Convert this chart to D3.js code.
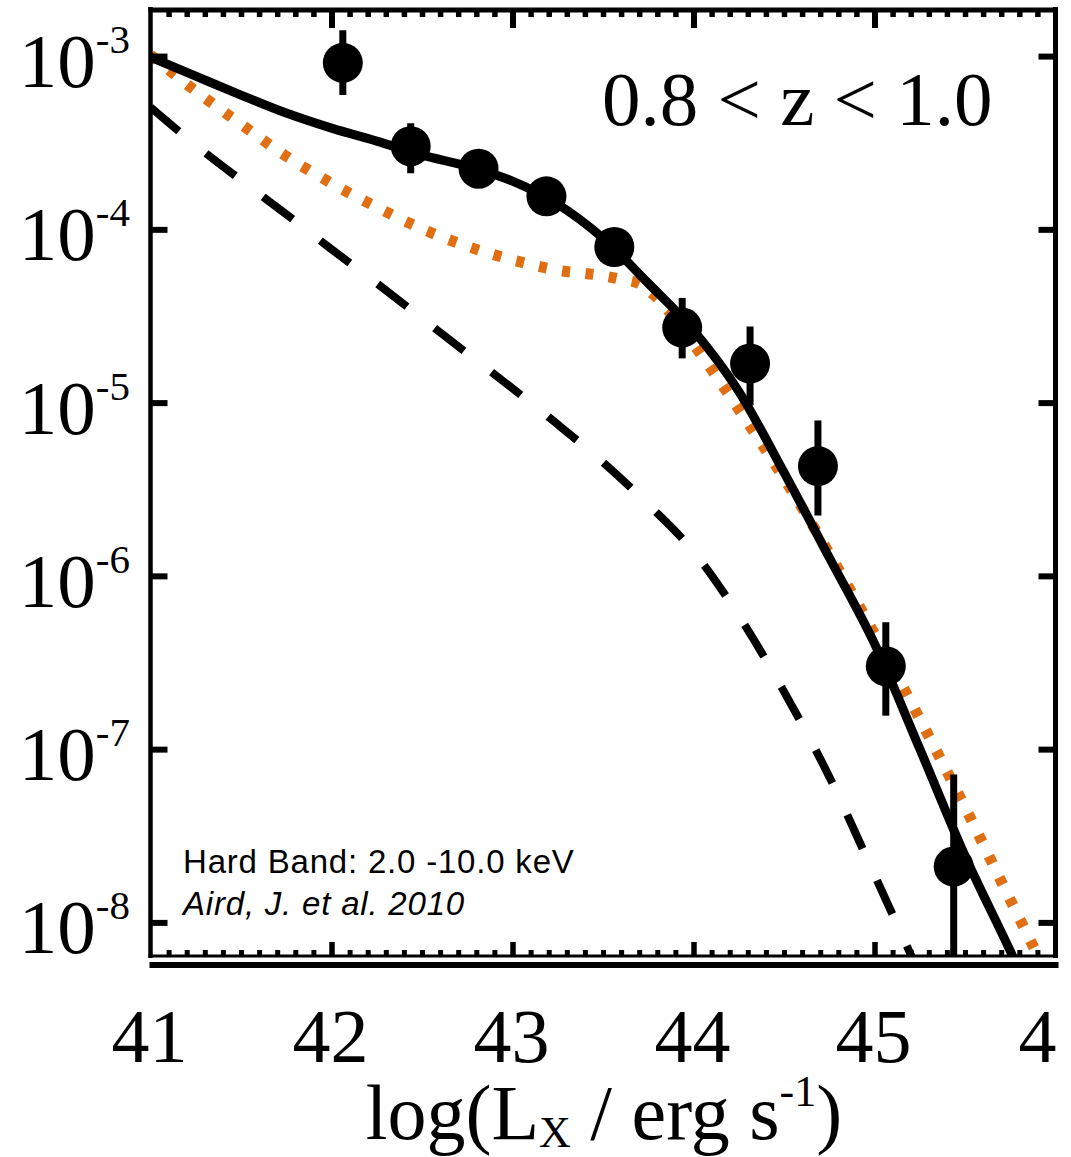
<!DOCTYPE html>
<html>
<head>
<meta charset="utf-8">
<script src="https://cdn.jsdelivr.net/npm/d3@7"></script>
<style>
  html, body { margin: 0; padding: 0; background: #ffffff; }
  svg { display: block; }
</style>
</head>
<body>
<svg id="chart" width="1071" height="1157"></svg>
<script>
// ---------------- data ----------------
const xTickValues = [41, 42, 43, 44, 45, 46];
const xTickLabels = ["41", "42", "43", "44", "45", "4"];   // last label is cut by the frame in the original
const yTickExponents = [-3, -4, -5, -6, -7, -8];

// binned data points: log(Lx) bin centres, space density, error bar ends
const binLx   = [42.0625, 42.4375, 42.8125, 43.1875, 43.5625, 43.9375, 44.3125, 44.6875, 45.0625, 45.4375];
const binPhi  = [9.14e-4, 3.02e-4, 2.24e-4, 1.55e-4, 7.91e-5, 2.71e-5, 1.68e-5, 4.30e-6, 3.01e-7, 2.10e-8];
const binPhiHi = [1.41e-3, 4.10e-4, 2.50e-4, 1.70e-4, 8.70e-5, 4.02e-5, 2.75e-5, 7.89e-6, 5.40e-7, 7.13e-8];
const binPhiLo = [5.96e-4, 2.11e-4, 2.00e-4, 1.40e-4, 7.20e-5, 1.80e-5, 9.64e-6, 2.23e-6, 1.56e-7, 1.0e-9];

// model curves (log10 of space density)
const solidLx  = [41, 41.25, 41.5, 41.75, 42, 42.25, 42.5, 42.75, 43, 43.25, 43.5, 43.75, 44, 44.25, 44.5, 44.75, 45, 45.25, 45.5, 45.75, 46];
const solidLog = [-3.006, -3.116, -3.225, -3.329, -3.416, -3.491, -3.572, -3.635, -3.722, -3.855, -4.051, -4.311, -4.583, -4.935, -5.403, -5.894, -6.391, -6.998, -7.616, -8.165, -8.74];

const dashedLx  = [41, 41.25, 41.5, 41.75, 42, 42.25, 42.5, 42.75, 43, 43.25, 43.5, 43.75, 44, 44.25, 44.5, 44.75, 45, 45.25];
const dashedLog = [-3.295, -3.514, -3.716, -3.913, -4.115, -4.311, -4.514, -4.716, -4.918, -5.126, -5.345, -5.588, -5.860, -6.229, -6.668, -7.159, -7.726, -8.30];

const dottedLx  = [41, 41.25, 41.5, 41.75, 42, 42.25, 42.5, 42.75, 43, 43.25, 43.5, 43.6, 43.7, 43.8, 44, 44.25, 44.5, 44.75, 45, 45.25, 45.5, 45.75, 46];
const dottedLog = [-2.994, -3.202, -3.393, -3.578, -3.734, -3.872, -3.997, -4.098, -4.176, -4.236, -4.268, -4.288, -4.313, -4.398, -4.664, -5.039, -5.438, -5.870, -6.335, -6.825, -7.335, -7.870, -8.396];

const redshiftLabel = "0.8 < z < 1.0";
const bandLabel = "Hard Band: 2.0 -10.0 keV";
const refLabel = "Aird, J. et al. 2010";

// ---------------- layout ----------------
const L = 150.5, R = 1055.5, T = 10, B = 956;
const svg = d3.select("#chart");
svg.append("rect").attr("width", 1071).attr("height", 1157).attr("fill", "#ffffff");

const x = d3.scaleLinear().domain([41, 46]).range([L, R]);
const y = d3.scaleLog().domain([Math.pow(10, -8.194), Math.pow(10, -2.734)]).range([B, T]);

const defs = svg.append("defs");
defs.append("clipPath").attr("id", "plotclip")
  .append("rect").attr("x", L).attr("y", T).attr("width", R - L).attr("height", B - T);

const plot = svg.append("g").attr("clip-path", "url(#plotclip)");

function curve(lxArr, logArr) {
  return lxArr.map((v, i) => [v, Math.pow(10, logArr[i])]);
}
const line = d3.line().x(d => x(d[0])).y(d => y(d[1])).curve(d3.curveMonotoneX);

// dashed component
plot.append("path").datum(curve(dashedLx, dashedLog))
  .attr("d", line).attr("fill", "none").attr("stroke", "#000")
  .attr("stroke-width", 8).attr("stroke-dasharray", "37,35");

// dotted orange component
plot.append("path").datum(curve(dottedLx, dottedLog))
  .attr("d", line).attr("fill", "none").attr("stroke", "#df6f12")
  .attr("stroke-width", 11).attr("stroke-dasharray", "8,15.5");

// solid total model
plot.append("path").datum(curve(solidLx, solidLog))
  .attr("d", line).attr("fill", "none").attr("stroke", "#000")
  .attr("stroke-width", 9).attr("stroke-linejoin", "round");

// data points
const pts = binLx.map((v, i) => ({ x: v, y: binPhi[i], hi: binPhiHi[i], lo: binPhiLo[i] }));
plot.selectAll("line.err").data(pts).enter().append("line")
  .attr("class", "err")
  .attr("x1", d => x(d.x)).attr("x2", d => x(d.x))
  .attr("y1", d => y(d.hi)).attr("y2", d => y(d.lo))
  .attr("stroke", "#000").attr("stroke-width", 7);
plot.selectAll("circle.pt").data(pts).enter().append("circle")
  .attr("class", "pt")
  .attr("cx", d => x(d.x)).attr("cy", d => y(d.y)).attr("r", 20)
  .attr("fill", "#000");

// ---------------- axes ----------------
const minorX = d3.range(410, 461).map(v => v / 10).filter(v => Math.abs(v - Math.round(v)) > 1e-6);

// top
svg.append("g").attr("transform", `translate(0,${T})`)
  .call(d3.axisTop(x).tickValues(minorX).tickSize(-7).tickFormat(""))
  .call(g => g.select(".domain").remove())
  .call(g => g.selectAll("line").attr("stroke", "#000").attr("stroke-width", 5.5));
svg.append("g").attr("transform", `translate(0,${T})`)
  .call(d3.axisTop(x).tickValues(xTickValues.slice(1, 5)).tickSize(-18).tickFormat(""))
  .call(g => g.select(".domain").remove())
  .call(g => g.selectAll("line").attr("stroke", "#000").attr("stroke-width", 6));

// bottom
svg.append("g").attr("transform", `translate(0,${B - 1})`)
  .call(d3.axisBottom(x).tickValues(minorX).tickSize(-5).tickFormat(""))
  .call(g => g.select(".domain").remove())
  .call(g => g.selectAll("line").attr("stroke", "#000").attr("stroke-width", 5));
svg.append("g").attr("transform", `translate(0,${B - 1})`)
  .call(d3.axisBottom(x).tickValues(xTickValues.slice(1, 5)).tickSize(-13).tickFormat(""))
  .call(g => g.select(".domain").remove())
  .call(g => g.selectAll("line").attr("stroke", "#000").attr("stroke-width", 5.5));

const yTickVals = yTickExponents.map(e => Math.pow(10, e));
// left
svg.append("g").attr("transform", `translate(${L},0)`)
  .call(d3.axisLeft(y).tickValues(yTickVals).tickSize(-17).tickFormat(""))
  .call(g => g.select(".domain").remove())
  .call(g => g.selectAll("line").attr("stroke", "#000").attr("stroke-width", 6));
// right
svg.append("g").attr("transform", `translate(${R},0)`)
  .call(d3.axisRight(y).tickValues(yTickVals).tickSize(-17).tickFormat(""))
  .call(g => g.select(".domain").remove())
  .call(g => g.selectAll("line").attr("stroke", "#000").attr("stroke-width", 6));

// frame
svg.append("line").attr("x1", L).attr("x2", L).attr("y1", T - 3).attr("y2", B + 2)
  .attr("stroke", "#000").attr("stroke-width", 4.5);
svg.append("line").attr("x1", R).attr("x2", R).attr("y1", T - 3).attr("y2", B + 2)
  .attr("stroke", "#000").attr("stroke-width", 5);
svg.append("line").attr("x1", L - 2).attr("x2", R + 2).attr("y1", T).attr("y2", T)
  .attr("stroke", "#000").attr("stroke-width", 5);
svg.append("line").attr("x1", L - 2).attr("x2", R + 2).attr("y1", B).attr("y2", B)
  .attr("stroke", "#000").attr("stroke-width", 3);
svg.append("line").attr("x1", L - 1).attr("x2", R + 3).attr("y1", B + 9).attr("y2", B + 9)
  .attr("stroke", "#000").attr("stroke-width", 6);

// y tick labels 10^n
const serif = "'Liberation Serif', 'Times New Roman', serif";
const yl = svg.append("g").attr("font-family", serif).attr("fill", "#000");
yTickExponents.forEach(e => {
  const t = yl.append("text").attr("x", 130).attr("y", y(Math.pow(10, e)) + 31)
    .attr("text-anchor", "end").attr("font-size", 77);
  t.append("tspan").text("10");
  t.append("tspan").attr("dy", -34).attr("font-size", 41).text(String(e));
});

// x tick labels
const xl = svg.append("g").attr("font-family", serif).attr("fill", "#000");
xl.selectAll("text").data(xTickValues).enter().append("text")
  .attr("x", (d, i) => i === xTickValues.length - 1 ? x(d) + 1 : x(d) - 1)
  .attr("y", 1062)
  .attr("text-anchor", (d, i) => i === xTickValues.length - 1 ? "end" : "middle")
  .attr("font-size", 76).text((d, i) => xTickLabels[i]);

// x axis title
const xt = svg.append("text").attr("x", 604).attr("y", 1139).attr("text-anchor", "middle")
  .attr("font-family", serif).attr("font-size", 78).attr("fill", "#000");
xt.append("tspan").text("log(L");
xt.append("tspan").attr("dy", 8).attr("font-size", 44).text("X");
xt.append("tspan").attr("dy", -8).text(" / erg s");
xt.append("tspan").attr("dy", -33).attr("font-size", 44).text("-1");
xt.append("tspan").attr("dy", 33).text(")");

// annotations
svg.append("text").attr("x", 602).attr("y", 125).attr("font-family", serif)
  .attr("font-size", 77).attr("fill", "#000").text(redshiftLabel);
svg.append("text").attr("x", 183).attr("y", 873).attr("font-family", "'Liberation Sans', Arial, sans-serif")
  .attr("font-size", 33).attr("letter-spacing", 0.8).attr("fill", "#000").text(bandLabel);
svg.append("text").attr("x", 183).attr("y", 915).attr("font-family", "'Liberation Sans', Arial, sans-serif")
  .attr("font-size", 33).attr("letter-spacing", 0.8).attr("font-style", "italic").attr("fill", "#000").text(refLabel);
</script>
</body>
</html>
